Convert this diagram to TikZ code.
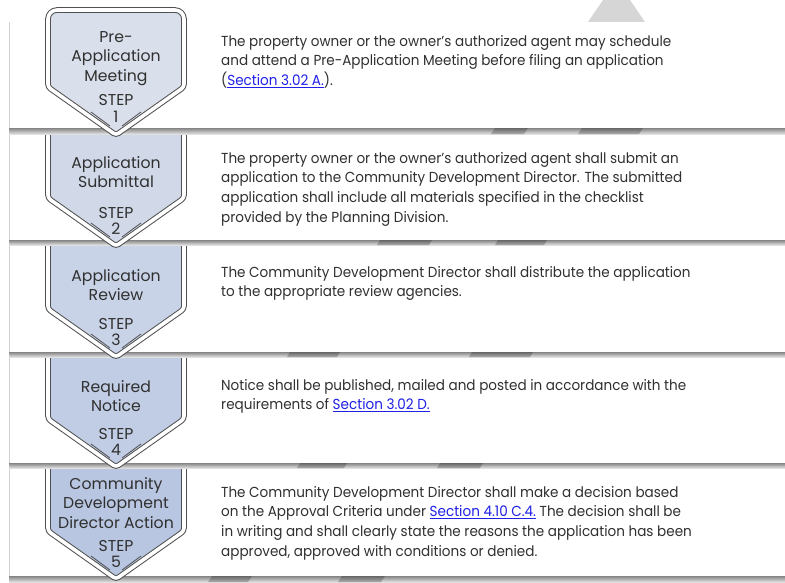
\documentclass[tikz,border=0pt]{standalone}
\usepackage{fontspec}
\setmainfont{Poppins}
\newfontfamily\bodyfam[FakeStretch=0.935]{Poppins}
\definecolor{txt}{HTML}{303030}
\definecolor{lnk}{HTML}{2020E8}
\definecolor{edge}{HTML}{505050}
\definecolor{bA}{HTML}{DAE0EB}
\definecolor{bB}{HTML}{D1D9E9}
\definecolor{bC}{HTML}{C9D3E7}
\definecolor{bD}{HTML}{C1CDE4}
\definecolor{bE}{HTML}{B8C6E1}
\definecolor{chev}{HTML}{D6D6D6}
\newcommand{\lnk}[1]{\textcolor{lnk}{\underline{#1}}}
\newcommand{\bodyfont}{\bodyfam\fontsize{14.5}{19.7}\selectfont}
\newcommand{\titlefont}{\fontsize{15.7}{19.6}\selectfont}
% badge outline: #1 top, #2 tip
\newcommand{\badgepath}[2]{[rounded corners=3pt] (116,#2) -- (48,{#2-48}) [rounded corners=9pt] -- (48,#1) -- (184,#1) [rounded corners=3pt] -- (184,{#2-48}) -- cycle}
\newcommand{\drawbadge}[3]{%
  \fill[black,opacity=.18,xshift=1.5pt,yshift=-2pt] \badgepath{#1}{#2};
  \fill[#3] \badgepath{#1}{#2};
  \draw[edge,line width=5.6pt] \badgepath{#1}{#2};
  \draw[white,line width=3.6pt] \badgepath{#1}{#2};
  \draw[vline] (91,{#2-23}) -- (110,{#2-9});
  \draw[vline] (122,{#2-9}) -- (141,{#2-23});
}
\newcommand{\gapband}[2]{%
  \shade[top color=black!48,bottom color=black!12] (9,#1) rectangle (785,#2);
}
\tikzset{
  body/.style={anchor=base west,inner sep=0pt,text=txt,font=\bodyfont},
  title/.style={anchor=base,inner sep=0pt,text=txt,font=\titlefont},
  panel/.style={fill=white},
  panedge/.style={draw=black!18,line width=0.8pt},
  chevseg/.style={fill=black,opacity=.22},
  vline/.style={draw=edge,line width=0.8pt},
}
\begin{document}
\begin{tikzpicture}[x=1pt,y=-1pt]
\useasboundingbox (0,0) rectangle (785,582);
\clip (0,0) rectangle (785,582);
\fill[white] (0,0) rectangle (785,582);
% background chevron piece above first panel
\fill[chev] (603,0) -- (630,0) -- (645,22) -- (588,22) -- cycle;

% ---------- row 5 ----------
\gapband{576}{582}
\fill[chevseg] (212,576) -- (252,576) -- (248,582) -- (208,582) -- cycle;
\fill[chevseg] (342,576) -- (385,576) -- (381,582) -- (338,582) -- cycle;
\fill[panel] (9,468) rectangle (785,576);
\draw[panedge] (9,468) -- (9,576);
\drawbadge{452}{579}{bE}
\node[title] (h5) at (116,489) {\parbox[t]{140pt}{\centering Community\\Development\\Director Action}};
\node[title] (s5) at (116,551) {STEP};
\node[title] (n5) at (116,567) {5};
\node[body] (t5) at (221,497) {\parbox[t]{560pt}{\raggedright
The Community Development Director shall make a decision based\\
on the Approval Criteria under \lnk{Section 4.10 C.4.} The decision shall be\\
in writing and shall clearly state the reasons the application has been\\
approved, approved with conditions or denied.}};

% ---------- row 4 ----------
\gapband{463}{468}
\fill[chevseg] (300,463) -- (347,463) -- (344,468) -- (297,468) -- cycle;
\fill[chevseg] (440,463) -- (483,463) -- (480,468) -- (437,468) -- cycle;
\fill[panel] (9,357) rectangle (785,463);
\draw[panedge] (9,357) -- (9,463);
\drawbadge{342}{467}{bD}
\node[title] (h4) at (116,392) {\parbox[t]{140pt}{\centering Required\\Notice}};
\node[title] (s4) at (116,439) {STEP};
\node[title] (n4) at (116,455) {4};
\node[body] (t4) at (221,390) {\parbox[t]{560pt}{\raggedright
Notice shall be published, mailed and posted in accordance with the\\
requirements of \lnk{Section 3.02 D.}}};

% ---------- row 3 ----------
\gapband{352}{357}
\fill[chevseg] (290,352) -- (340,352) -- (337,357) -- (287,357) -- cycle;
\fill[chevseg] (472,352) -- (533,352) -- (530,357) -- (469,357) -- cycle;
\fill[panel] (9,245) rectangle (785,352);
\draw[panedge] (9,245) -- (9,352);
\drawbadge{230}{357}{bC}
\node[title] (h3) at (116,281) {\parbox[t]{140pt}{\centering Application\\Review}};
\node[title] (s3) at (116,329) {STEP};
\node[title] (n3) at (116,345) {3};
\node[body] (t3) at (221,277) {\parbox[t]{560pt}{\raggedright
The Community Development Director shall distribute the application\\
to the appropriate review agencies.}};

% ---------- row 2 ----------
\gapband{240}{245}
\fill[chevseg] (380,240) -- (432,240) -- (429,245) -- (377,245) -- cycle;
\fill[chevseg] (498,240) -- (547,240) -- (544,245) -- (495,245) -- cycle;
\fill[panel] (9,134) rectangle (785,240);
\draw[panedge] (9,134) -- (9,240);
\drawbadge{118}{246}{bB}
\node[title] (h2) at (116,168) {\parbox[t]{140pt}{\centering Application\\Submittal}};
\node[title] (s2) at (116,218) {STEP};
\node[title] (n2) at (116,234) {2};
\node[body] (t2) at (221,163) {\parbox[t]{560pt}{\raggedright
The property owner or the owner’s authorized agent shall submit an\\
application to the Community Development Director. The submitted\\
application shall include all materials specified in the checklist\\
provided by the Planning Division.}};

% ---------- row 1 ----------
\gapband{128}{134}
\fill[chevseg] (495,128) -- (528,128) -- (524,134) -- (491,134) -- cycle;
\fill[chevseg] (582,128) -- (643,128) -- (639,134) -- (578,134) -- cycle;
\fill[panel] (9,22) rectangle (785,128);
\draw[panedge] (9,22) -- (9,128);
\drawbadge{10}{135}{bA}
\node[title] (h1) at (116,42) {\parbox[t]{140pt}{\centering Pre-\\Application\\Meeting}};
\node[title] (s1) at (116,105) {STEP};
\node[title] (n1) at (116,122) {1};
\node[body] (t1) at (221,46) {\parbox[t]{560pt}{\raggedright
The property owner or the owner’s authorized agent may schedule\\
and attend a Pre-Application Meeting before filing an application\\
(\lnk{Section 3.02 A.}).}};
\end{tikzpicture}
\end{document}
